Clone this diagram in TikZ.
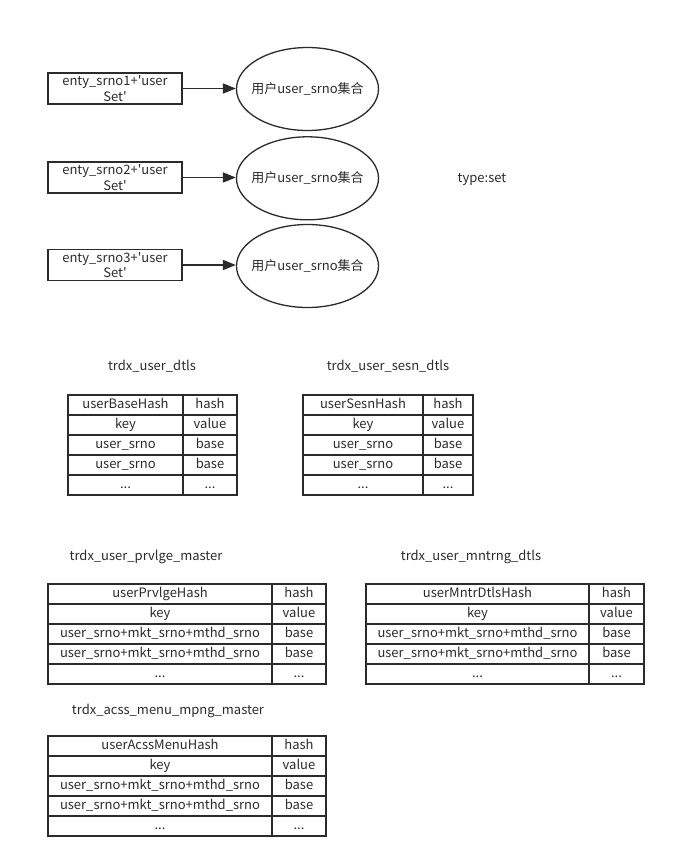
\documentclass[tikz,border=0pt]{standalone}
\usepackage{fontspec}
\newfontfamily\cjk{Noto Sans CJK SC}
\usetikzlibrary{arrows.meta,shapes.geometric}
\definecolor{ink}{HTML}{2B2B2B}
\newcommand\etcdots{...}
\tikzset{
  base/.style={font=\cjk\fontsize{13}{15.5}\selectfont, text=ink},
  keybox/.style={base, draw=ink, line width=1.5pt, minimum width=134pt, minimum height=31pt, inner sep=0pt, align=center},
  setell/.style={base, draw=ink, line width=1.3pt, ellipse, minimum width=142pt, minimum height=83pt, inner sep=0pt},
  link/.style={draw=ink, line width=1.8pt, -{Triangle[length=13pt,width=10pt]}},
  cell/.style={base, draw=ink, line width=1.4pt, minimum height=20pt, inner sep=0pt, text height=9.5pt, text depth=2.5pt},
  title/.style={base}
}
\newcommand\kvtab[7]{%
  \pgfmathsetmacro\wa{#3-#2}\pgfmathsetmacro\wb{#4-#3}%
  \pgfmathsetmacro\ca{(#2+#3)/2}\pgfmathsetmacro\cb{(#3+#4)/2}%
  \foreach \i/\ta/\tb in {1/{#6}/hash,2/key/value,3/{#7}/base,4/{#7}/base,5/\etcdots/\etcdots}{%
    \node[cell, minimum width=\wa pt] (#1-\i-a) at (\ca,{#5+10+20*(\i-1)}) {\ta};
    \node[cell, minimum width=\wb pt] (#1-\i-b) at (\cb,{#5+10+20*(\i-1)}) {\tb};
  }%
}
\begin{document}
\begin{tikzpicture}[x=1pt,y=-1pt]
\useasboundingbox (0,0) rectangle (676,868);

% keys and sets
\node[keybox] (k1) at (115,88.5) {enty\_srno1+'user\\Set'};
\node[keybox] (k2) at (115,177.5) {enty\_srno2+'user\\Set'};
\node[keybox] (k3) at (115,265) {enty\_srno3+'user\\Set'};

\node[setell] (e1) at (307.5,89) {\makebox[0pt]{用户user\_srno集合}};
\node[setell] (e2) at (307.5,178.3) {\makebox[0pt]{用户user\_srno集合}};
\node[setell] (e3) at (307.5,266) {\makebox[0pt]{用户user\_srno集合}};

\draw[link] (k1.east) -- (k1.east -| e1.west);
\draw[link] (k2.east) -- (k2.east -| e2.west);
\draw[link] (k3.east) -- (k3.east -| e3.west);

\node[title] (tset) at (482,179) {type:set};

% tables
\node[title] (t1) at (152,366) {trdx\_user\_dtls};
\kvtab{T1}{68}{183}{237}{395}{userBaseHash}{user\_srno}

\node[title] (t2) at (388,366) {trdx\_user\_sesn\_dtls};
\kvtab{T2}{303}{423}{473}{395}{userSesnHash}{user\_srno}

\node[title] (t3) at (146,557) {trdx\_user\_prvlge\_master};
\kvtab{T3}{48}{272}{326}{584}{userPrvlgeHash}{user\_srno+mkt\_srno+mthd\_srno}

\node[title] (t4) at (471,557) {trdx\_user\_mntrng\_dtls};
\kvtab{T4}{366}{589}{644}{584}{userMntrDtlsHash}{user\_srno+mkt\_srno+mthd\_srno}

\node[title] (t5) at (168,711) {trdx\_acss\_menu\_mpng\_master};
\kvtab{T5}{48}{272}{326}{736}{userAcssMenuHash}{user\_srno+mkt\_srno+mthd\_srno}
\end{tikzpicture}
\end{document}
